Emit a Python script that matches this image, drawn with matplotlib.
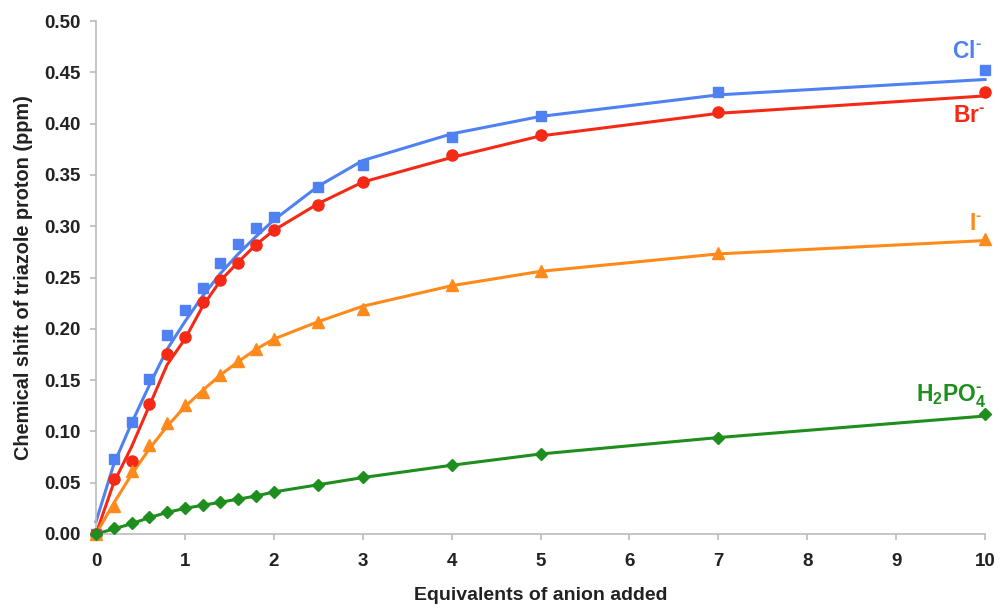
import matplotlib
matplotlib.use("Agg")
import matplotlib.pyplot as plt

plt.rcParams['font.family'] = ['Liberation Sans', 'DejaVu Sans']
plt.rcParams['mathtext.fontset'] = 'custom'
plt.rcParams['mathtext.rm'] = 'Liberation Sans'
plt.rcParams['mathtext.bf'] = 'Liberation Sans:bold'

equiv = [0, 0.2, 0.4, 0.6, 0.8, 1.0, 1.2, 1.4, 1.6, 1.8, 2.0, 2.5, 3, 4, 5, 7, 10]

cl_obs = [0.0, 0.073, 0.109, 0.151, 0.194, 0.218, 0.240, 0.264, 0.283, 0.298, 0.309, 0.338, 0.360, 0.387, 0.407, 0.431, 0.452]
br_obs = [0.0, 0.054, 0.071, 0.127, 0.175, 0.192, 0.226, 0.248, 0.264, 0.282, 0.296, 0.321, 0.343, 0.369, 0.389, 0.411, 0.431]
i_obs = [0.0, 0.027, 0.061, 0.087, 0.108, 0.126, 0.138, 0.155, 0.169, 0.180, 0.190, 0.207, 0.219, 0.243, 0.256, 0.274, 0.288]
h2po4_obs = [0.0, 0.006, 0.011, 0.017, 0.021, 0.025, 0.028, 0.031, 0.034, 0.037, 0.041, 0.048, 0.056, 0.067, 0.078, 0.094, 0.117]

cl_fit = [0.012, 0.068, 0.108, 0.145, 0.180, 0.207, 0.232, 0.254, 0.273, 0.290, 0.306, 0.339, 0.364, 0.390, 0.407, 0.428, 0.443]
br_fit = [0.0, 0.050, 0.085, 0.125, 0.165, 0.190, 0.222, 0.247, 0.265, 0.282, 0.296, 0.322, 0.343, 0.367, 0.388, 0.410, 0.427]
i_fit = [0.0, 0.030, 0.058, 0.083, 0.105, 0.124, 0.140, 0.155, 0.168, 0.180, 0.190, 0.207, 0.222, 0.242, 0.256, 0.273, 0.286]
h2po4_fit = [0.0, 0.005, 0.010, 0.016, 0.021, 0.025, 0.028, 0.031, 0.034, 0.037, 0.041, 0.048, 0.055, 0.067, 0.078, 0.094, 0.115]

HY = '\u2010'
series = [
    (cl_obs, cl_fit, '#4F81F2', 's', 7.5, r'$\mathbf{Cl^{' + HY + r'}}$', 9.97, 0.4637),
    (br_obs, br_fit, '#F42A16', 'o', 8, r'$\mathbf{Br^{' + HY + r'}}$', 10.0, 0.4018),
    (i_obs, i_fit, '#FF8A1C', '^', 8, r'$\mathbf{I^{' + HY + r'}}$', 9.97, 0.2963),
    (h2po4_obs, h2po4_fit, '#1E8E1E', 'D', 6.5, r'$\mathbf{H_2PO_4^{' + HY + r'}}$', 10.02, 0.129),
]

fig = plt.figure(figsize=(10.01, 6.08), dpi=100)
ax = fig.add_axes([96/1001, 1 - 534/608, (985-96)/1001, (534-21)/608])

for obs, fit, color, mk, ms, label, lx, ly in series:
    ax.plot(equiv, fit, color=color, lw=2.2, solid_joinstyle='round', clip_on=False, zorder=2)
    ax.plot(equiv, obs, ls='none', marker=mk, ms=ms, color=color, mec=color, clip_on=False, zorder=3)
    ax.text(lx, ly, label, color=color, fontsize=16.5, ha='right', va='baseline')

ax.set_xlim(0, 10)
ax.set_ylim(0, 0.5)
ax.set_xticks(range(0, 11))
ax.set_yticks([0.0, 0.05, 0.10, 0.15, 0.20, 0.25, 0.30, 0.35, 0.40, 0.45, 0.50])
ax.set_yticklabels([f"{v:.2f}" for v in ax.get_yticks()])
for lab in ax.get_xticklabels() + ax.get_yticklabels():
    lab.set_fontweight('bold')
    lab.set_fontsize(13.5)
    lab.set_color('#222222')

ax.spines['top'].set_visible(False)
ax.spines['right'].set_visible(False)
for s in ('left', 'bottom'):
    ax.spines[s].set_color('#BBBBBB')
    ax.spines[s].set_linewidth(1.2)
ax.tick_params(axis='both', direction='out', length=4, color='#BBBBBB', width=1.2)
ax.tick_params(axis='y', pad=7)
ax.tick_params(axis='x', pad=10)

ax.set_xlabel('Equivalents of anion added', fontsize=14, fontweight='bold', color='#222222', labelpad=12)
ax.set_ylabel('Chemical shift of triazole proton (ppm)', fontsize=14.3, fontweight='bold', color='#222222', labelpad=8)

fig.savefig('out.png', dpi=100)
